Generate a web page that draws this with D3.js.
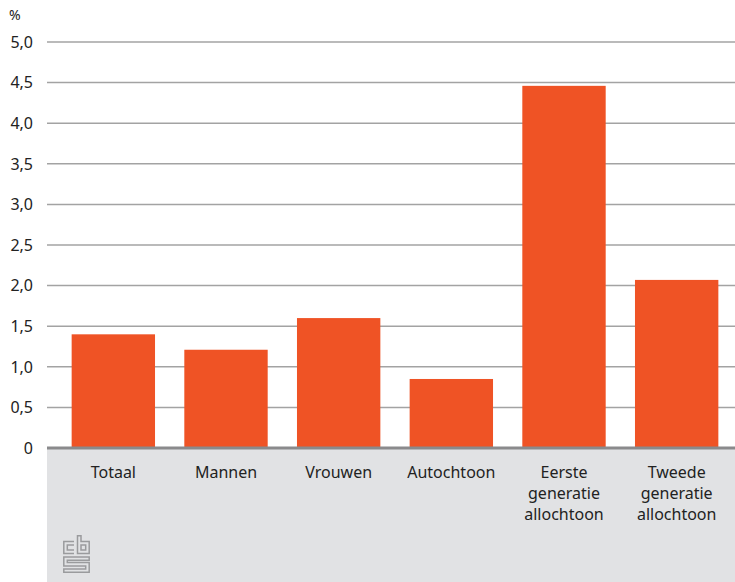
<!DOCTYPE html>
<html><head><meta charset="utf-8">
<script src="https://cdn.jsdelivr.net/npm/d3@7"></script>
<style>body{margin:0;background:#fff}svg{display:block;font-family:"Noto Sans",sans-serif}</style>
</head><body><svg id="c" width="735" height="582"></svg>
<script>
const categories = [["Totaal"],["Mannen"],["Vrouwen"],["Autochtoon"],["Eerste","generatie","allochtoon"],["Tweede","generatie","allochtoon"]];
const values = [1.40, 1.21, 1.60, 0.85, 4.46, 2.07];
const tickValues = [0,0.5,1,1.5,2,2.5,3,3.5,4,4.5,5];
const unitLabel = "%";

(function(){
const svg = d3.select("#c");
const pLeft = 47, pRight = 735, pTop = 42, pBottom = 448;
const y = d3.scaleLinear().domain([0,5]).range([pBottom, pTop]);
const x = d3.scaleBand().domain(d3.range(categories.length)).range([57, 733]).paddingInner(0.26).paddingOuter(0.13);

svg.append("rect").attr("x", pLeft).attr("y", pBottom+1).attr("width", pRight-pLeft).attr("height", 582-pBottom-1).attr("fill", "#e1e2e4");

const fmt = v => v === 0 ? "0" : d3.format(".1f")(v).replace(".", ",");
svg.append("g").selectAll("line").data(tickValues.filter(d=>d>0)).join("line")
  .attr("x1", pLeft).attr("x2", pRight).attr("y1", d=>y(d)).attr("y2", d=>y(d))
  .attr("stroke", "#a3a3a3").attr("stroke-width", 1.5);
svg.append("g").selectAll("text").data(tickValues).join("text")
  .attr("x", 33).attr("y", d=>y(d)).attr("dy", "0.36em").attr("text-anchor","end")
  .attr("font-size", 16).attr("fill","#222").text(fmt);
svg.append("text").attr("x", 9).attr("y", 20).attr("font-size", 14).attr("fill","#222").text(unitLabel);

svg.append("g").selectAll("rect").data(values).join("rect")
  .attr("x", (d,i)=>x(i)).attr("width", x.bandwidth())
  .attr("y", d=>y(d)).attr("height", d=>y(0)-y(d)).attr("fill", "#ef5325");

svg.append("line").attr("x1", pLeft).attr("x2", pRight).attr("y1", y(0)).attr("y2", y(0))
  .attr("stroke", "#8a8a8c").attr("stroke-width", 3);

const lab = svg.append("g").selectAll("text").data(categories).join("text")
  .attr("text-anchor","middle").attr("font-size", 16).attr("fill","#222");
lab.selectAll("tspan").data((d,i)=>d.map(s=>({s,i}))).join("tspan")
  .attr("x", d=>x(d.i)+x.bandwidth()/2).attr("y", (d,j)=>478 + j*21).text(d=>d.s);

const g = svg.append("g").attr("transform","translate(63,535)").attr("fill","none").attr("stroke","#9a9b9d").attr("stroke-width",1.5).attr("stroke-linejoin","miter");
g.append("path").attr("d","M11,6.5 H0.8 V18.5 H11 M11,10 H4.3 V15 H11");
g.append("path").attr("d","M14.5,0.8 V18.5 H26.2 V6.5 H18 V0.8 Z M18,10 H22.7 V15 H18 Z");
g.append("path").attr("d","M26.2,22 H0.8 V31 H22.7 V34 H0.8 V37.2 H26.2 V27.5 H4.3 V25.3 H26.2 Z");
})();
</script></body></html>
